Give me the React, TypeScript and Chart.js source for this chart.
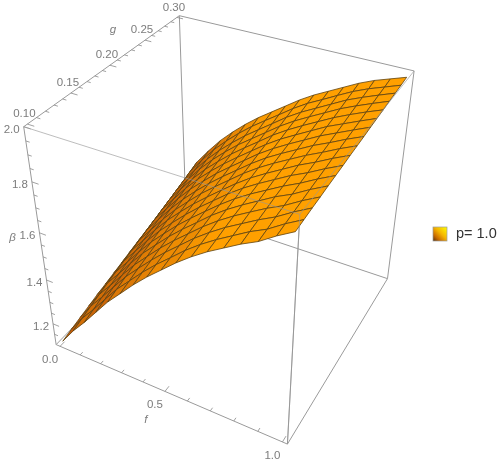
import React, { useEffect, useRef } from "react";
import { Chart, registerables } from "chart.js";

Chart.register(...registerables);

const fNodes = [0, 0.0625, 0.125, 0.1875, 0.25, 0.3125, 0.375, 0.4375, 0.5, 0.5625, 0.625, 0.6875, 0.75, 0.8125, 0.875, 0.9375, 1];
const gNodes = [0.1, 0.1125, 0.125, 0.1375, 0.15, 0.1625, 0.175, 0.1875, 0.2, 0.2125, 0.225, 0.2375, 0.25, 0.2625, 0.275, 0.2875, 0.3];
// beta: one row per f node, one value per g node
const betaRows = [
  [1.11, 1.123, 1.135, 1.147, 1.159, 1.169, 1.18, 1.191, 1.202, 1.213, 1.223, 1.234, 1.245, 1.256, 1.267, 1.278, 1.29],
  [1.185, 1.199, 1.213, 1.226, 1.239, 1.251, 1.263, 1.275, 1.287, 1.299, 1.311, 1.323, 1.335, 1.347, 1.359, 1.372, 1.385],
  [1.25, 1.264, 1.279, 1.292, 1.305, 1.318, 1.33, 1.342, 1.355, 1.367, 1.379, 1.391, 1.404, 1.416, 1.428, 1.442, 1.455],
  [1.32, 1.334, 1.348, 1.361, 1.374, 1.386, 1.398, 1.41, 1.422, 1.434, 1.446, 1.458, 1.47, 1.482, 1.494, 1.507, 1.52],
  [1.39, 1.403, 1.416, 1.428, 1.44, 1.451, 1.462, 1.473, 1.484, 1.495, 1.507, 1.518, 1.529, 1.54, 1.551, 1.563, 1.575],
  [1.45, 1.462, 1.475, 1.486, 1.497, 1.508, 1.518, 1.529, 1.539, 1.55, 1.56, 1.571, 1.581, 1.592, 1.602, 1.614, 1.625],
  [1.51, 1.521, 1.532, 1.543, 1.553, 1.563, 1.572, 1.582, 1.592, 1.601, 1.611, 1.62, 1.63, 1.64, 1.649, 1.66, 1.67],
  [1.565, 1.575, 1.585, 1.595, 1.604, 1.613, 1.622, 1.63, 1.639, 1.648, 1.656, 1.665, 1.674, 1.682, 1.691, 1.701, 1.71],
  [1.615, 1.624, 1.634, 1.643, 1.651, 1.66, 1.668, 1.676, 1.684, 1.692, 1.7, 1.708, 1.716, 1.724, 1.732, 1.741, 1.75],
  [1.665, 1.674, 1.683, 1.691, 1.699, 1.706, 1.714, 1.721, 1.729, 1.736, 1.744, 1.751, 1.759, 1.766, 1.774, 1.782, 1.79],
  [1.71, 1.718, 1.726, 1.734, 1.741, 1.748, 1.755, 1.762, 1.769, 1.776, 1.782, 1.789, 1.796, 1.803, 1.81, 1.818, 1.825],
  [1.75, 1.757, 1.765, 1.772, 1.778, 1.785, 1.791, 1.797, 1.804, 1.81, 1.816, 1.822, 1.829, 1.835, 1.841, 1.848, 1.855],
  [1.785, 1.792, 1.799, 1.806, 1.812, 1.818, 1.824, 1.83, 1.836, 1.842, 1.848, 1.854, 1.86, 1.866, 1.872, 1.879, 1.885],
  [1.82, 1.827, 1.833, 1.839, 1.846, 1.851, 1.857, 1.863, 1.868, 1.874, 1.88, 1.886, 1.891, 1.897, 1.903, 1.909, 1.915],
  [1.85, 1.856, 1.863, 1.868, 1.874, 1.88, 1.885, 1.891, 1.896, 1.901, 1.907, 1.912, 1.918, 1.923, 1.928, 1.934, 1.94],
  [1.89, 1.895, 1.9, 1.904, 1.909, 1.913, 1.917, 1.922, 1.926, 1.93, 1.934, 1.938, 1.943, 1.947, 1.951, 1.955, 1.96],
  [1.925, 1.929, 1.933, 1.936, 1.94, 1.943, 1.946, 1.95, 1.953, 1.956, 1.96, 1.963, 1.966, 1.97, 1.973, 1.976, 1.98],
];

const fMajor = [0, 0.5, 1];
const fMinor = [0.1, 0.2, 0.3, 0.4, 0.6, 0.7, 0.8, 0.9];
const gMajor = [0.1, 0.15, 0.2, 0.25, 0.3];
const gMinor = [0.11, 0.12, 0.13, 0.14, 0.16, 0.17, 0.18, 0.19, 0.21, 0.22, 0.23, 0.24, 0.26, 0.27, 0.28, 0.29];
const betaMajor = [1.2, 1.4, 1.6, 1.8, 2.0];
const betaMinor = [1.15, 1.25, 1.3, 1.35, 1.45, 1.5, 1.55, 1.65, 1.7, 1.75, 1.85, 1.9, 1.95];

const fRange = [-0.02, 1.02];
const gRange = [0.096, 0.304];
const betaRange = [1.1, 2.0];

// Camera calibration: where the eight corners of the plot box land in the view plane
const cameraAnchors: number[][] = [
  [0, 0, 0, 57, 347], [1, 0, 0, 287, 443], [1, 1, 0, 387, 281], [0, 1, 0, 186, 208],
  [0, 0, 1, 23, 127], [1, 0, 1, 300, 212], [1, 1, 1, 415, 71], [0, 1, 1, 179, 17],
];

function solve(A: number[][], b: number[]) {
  const n = b.length;
  const M = A.map((r, i) => [...r, b[i]]);
  for (let c = 0; c < n; c++) {
    let p = c;
    for (let r = c + 1; r < n; r++) if (Math.abs(M[r][c]) > Math.abs(M[p][c])) p = r;
    [M[c], M[p]] = [M[p], M[c]];
    for (let r = 0; r < n; r++) {
      if (r === c) continue;
      const k = M[r][c] / M[c][c];
      for (let j = c; j <= n; j++) M[r][j] -= k * M[c][j];
    }
  }
  return M.map((r, i) => r[n] / r[i]);
}

function calibrate() {
  const rows: number[][] = [];
  const rhs: number[] = [];
  for (const [X, Y, Z, u, v] of cameraAnchors) {
    rows.push([X, Y, Z, 1, 0, 0, 0, 0, -u * X, -u * Y, -u * Z]);
    rhs.push(u);
    rows.push([0, 0, 0, 0, X, Y, Z, 1, -v * X, -v * Y, -v * Z]);
    rhs.push(v);
  }
  const n = 11;
  const A = Array.from({ length: n }, () => new Array(n).fill(0));
  const b = new Array(n).fill(0);
  rows.forEach((r, k) => {
    for (let i = 0; i < n; i++) {
      b[i] += r[i] * rhs[k];
      for (let j = 0; j < n; j++) A[i][j] += r[i] * r[j];
    }
  });
  return solve(A, b);
}
const P = calibrate();

function project(f: number, g: number, beta: number) {
  const X = (f - fRange[0]) / (fRange[1] - fRange[0]);
  const Y = (g - gRange[0]) / (gRange[1] - gRange[0]);
  const Z = (beta - betaRange[0]) / (betaRange[1] - betaRange[0]);
  const w = P[8] * X + P[9] * Y + P[10] * Z + 1;
  return {
    x: (P[0] * X + P[1] * Y + P[2] * Z + P[3]) / w,
    y: (P[4] * X + P[5] * Y + P[6] * Z + P[7]) / w,
  };
}

function quadColor(slope: number) {
  const t = Math.max(0, Math.min(1, (slope - 0.6) / 0.6));
  const mix = (a: number, b: number) => Math.round(a + (b - a) * t);
  return `rgb(${mix(255, 195)},${mix(160, 92)},${mix(0, 8)})`;
}

const GRAY = "#9a9a9a";
const lineDs = (pts: { x: number; y: number }[], color: string, width: number) => ({
  type: "line" as const,
  data: pts,
  borderColor: color,
  borderWidth: width,
  pointRadius: 0,
  fill: false,
  tension: 0,
});

function buildDatasets() {
  const [f0, f1] = fRange;
  const [g0, g1] = gRange;
  const [b0, b1] = betaRange;
  const paint: any[] = [];
  const back = [
    [[f0, g1, b1], [f1, g1, b1]],
    [[f0, g0, b1], [f0, g1, b1]],
    [[f0, g1, b1], [f0, g1, b0]],
    [[f0, g1, b0], [f1, g1, b0]],
    [[f0, g0, b0], [f0, g1, b0]],
    [[f1, g1, b0], [f1, g1, b1]],
    [[f1, g1, b0], [f1, g0, b0]],
    [[f0, g0, b0], [f1, g0, b0]],
    [[f0, g0, b0], [f0, g0, b1]],
    [[f1, g0, b0], [f1, g0, b1]],
  ];
  back.forEach(([a, c]) => paint.push(lineDs([project(a[0], a[1], a[2]), project(c[0], c[1], c[2])], GRAY, 1)));

  const tick = (from: number[], d: number[]) =>
    paint.push(lineDs([project(from[0], from[1], from[2]), project(from[0] + d[0], from[1] + d[1], from[2] + d[2])], "#8a8a8a", 0.8));
  fMajor.forEach((v) => tick([v, g0, b0], [0, 0.006, 0]));
  fMinor.forEach((v) => tick([v, g0, b0], [0, 0.0035, 0]));
  gMajor.forEach((v) => tick([f0, v, b1], [0.03, 0, 0]));
  gMinor.forEach((v) => tick([f0, v, b1], [0.017, 0, 0]));
  betaMajor.forEach((v) => tick([f0, g0, v], [0.03, 0, 0]));
  betaMinor.forEach((v) => tick([f0, g0, v], [0.017, 0, 0]));

  for (let i = 0; i < fNodes.length - 1; i++) {
    for (let j = gNodes.length - 2; j >= 0; j--) {
      const c = (a: number, b: number) => project(fNodes[a], gNodes[b], betaRows[a][b]);
      const slope = ((betaRows[i + 1][j] + betaRows[i + 1][j + 1] - betaRows[i][j] - betaRows[i][j + 1]) / 2) / (fNodes[i + 1] - fNodes[i]);
      const color = quadColor(slope);
      const first = c(i, j);
      paint.push({
        type: "line" as const,
        data: [first, c(i + 1, j), c(i + 1, j + 1), c(i, j + 1), first],
        borderColor: "#5e4210",
        borderWidth: 0.8,
        backgroundColor: color,
        pointRadius: 0,
        fill: "shape",
        tension: 0,
      });
    }
  }

  const front = [
    [[f0, g0, b1], [f1, g0, b1]],
    [[f1, g0, b1], [f1, g1, b1]],
    [[f1, g0, b1], [f1, g0, b0]],
  ];
  front.forEach(([a, c]) =>
    paint.push(lineDs([project(a[0], a[1], a[2]), project(c[0], c[1], c[2])], "rgba(150,150,150,0.7)", 0.9))
  );
  return paint.reverse();
}

const labelsPlugin = {
  id: "plotText",
  afterDraw(chart: any) {
    const { ctx, scales } = chart;
    const [f0] = fRange;
    const [g0] = gRange;
    const [b0, b1] = betaRange;
    const put = (text: string, pt: { x: number; y: number }, dx: number, dy: number, font: string, color = "#7c7c7c", align: CanvasTextAlign = "center") => {
      ctx.save();
      ctx.font = font;
      ctx.fillStyle = color;
      ctx.textAlign = align;
      ctx.textBaseline = "middle";
      ctx.fillText(text, scales.x.getPixelForValue(pt.x) + dx, scales.y.getPixelForValue(pt.y) + dy);
      ctx.restore();
    };
    const tickFont = "11.5px 'Liberation Sans'";
    const italic = "italic 11.5px 'Liberation Sans'";
    fMajor.forEach((v) => put(v.toFixed(1), project(v, g0, b0), -10, 13.5, tickFont));
    gMajor.forEach((v) => put(v.toFixed(2), project(f0, v, b1), -3, -10, tickFont));
    betaMajor.forEach((v) => put(v.toFixed(1), project(f0, g0, v), -12, 3, tickFont));
    put("f", project(0.5, g0, b0), -19, 28, italic);
    put("g", project(f0, 0.25, b1), -32, -10, italic);
    put("β", project(f0, g0, 1.6), -27, 5, italic);

    const sx = scales.x.getPixelForValue(433);
    const sy = scales.y.getPixelForValue(227);
    const s = 14;
    const grad = ctx.createLinearGradient(sx + s, sy, sx, sy + s);
    grad.addColorStop(0, "#ffff00");
    grad.addColorStop(0.45, "#f5b400");
    grad.addColorStop(0.75, "#c86a00");
    grad.addColorStop(1, "#503010");
    ctx.save();
    ctx.fillStyle = grad;
    ctx.fillRect(sx, sy, s, s);
    ctx.strokeStyle = "#9a9a9a";
    ctx.lineWidth = 0.7;
    ctx.strokeRect(sx, sy, s, s);
    ctx.restore();
    put("p= 1.0", { x: 456, y: 233.5 }, 0, 0, "14.5px 'Liberation Sans'", "#333333", "left");
  },
};

export default function App() {
  const ref = useRef<HTMLCanvasElement>(null);
  useEffect(() => {
    const chart = new Chart(ref.current!, {
      type: "line",
      data: { datasets: buildDatasets() },
      plugins: [labelsPlugin],
      options: {
        animation: false,
        responsive: false,
        events: [],
        layout: { padding: 0 },
        plugins: { legend: { display: false }, tooltip: { enabled: false } },
        scales: {
          x: { type: "linear", min: 0, max: 498, display: false },
          y: { type: "linear", min: 0, max: 459, reverse: true, display: false },
        },
      },
    } as any);
    return () => chart.destroy();
  }, []);
  return (
    <div style={{ position: "absolute", left: 0, top: 0, width: 498, height: 459, background: "#fff" }}>
      <canvas ref={ref} width={498} height={459} style={{ display: "block" }} />
    </div>
  );
}
